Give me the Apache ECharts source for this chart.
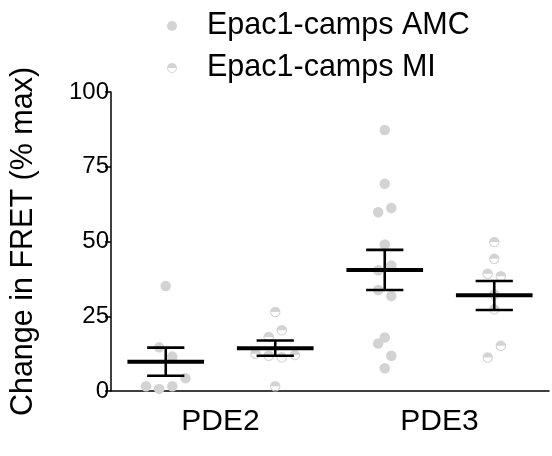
<!DOCTYPE html>
<html>
<head>
<meta charset="utf-8">
<script src="https://cdn.jsdelivr.net/npm/echarts@6/dist/echarts.min.js"></script>
<style>
html,body{margin:0;padding:0;background:#fff;}
#chart{width:552px;height:456px;}
</style>
</head>
<body>
<div id="chart"></div>
<script>
// ---- data ----
const categories = ['PDE2', 'PDE3'];
const yTicks = [0, 25, 50, 75, 100];
const seriesNames = ['Epac1-camps AMC', 'Epac1-camps MI'];

// individual points (values) and horizontal jitter (in category-band units)
const amcPDE2 = [35.1, 14.6, 11.5, 4.3, 1.6, 0.7, 1.6];
const amcPDE2Jitter = [0, -0.06, 0.06, 0.18, -0.18, -0.06, 0.06];
const amcPDE3 = [87.3, 69.3, 61.2, 59.8, 49.0, 42.0, 40.4, 33.8, 31.8, 17.9, 15.9, 11.8, 7.6];
const amcPDE3Jitter = [0, 0, 0.06, -0.06, 0, 0.06, -0.06, -0.06, 0.06, 0, -0.06, 0.06, 0];
const miPDE2 = [26.4, 20.3, 18.1, 12.5, 11.8, 11.3, 12.0, 1.6];
const miPDE2Jitter = [0, 0.06, -0.06, -0.18, -0.06, 0.06, 0.18, 0];
const miPDE3 = [49.8, 44.2, 39.2, 38.4, 32.3, 27.3, 15.1, 11.2];
const miPDE3Jitter = [0, 0, -0.06, 0.06, 0, 0, 0.06, -0.06];

// mean and SEM bounds per category
const amcMean = [9.8, 40.5];
const amcLow = [5.1, 33.8];
const amcHigh = [14.5, 47.2];
const miMean = [14.3, 32.0];
const miLow = [11.8, 27.1];
const miHigh = [16.9, 36.8];

// ---- build ----
// 4 bands on x axis: [AMC PDE2, MI PDE2, AMC PDE3, MI PDE3]
function bandCenter(catIdx, seriesIdx) { return catIdx * 2 + seriesIdx + 0.5; }
function pts(vals, jit, catIdx, seriesIdx) {
  return vals.map((v, i) => [bandCenter(catIdx, seriesIdx) + jit[i], v]);
}
const amcPoints = pts(amcPDE2, amcPDE2Jitter, 0, 0).concat(pts(amcPDE3, amcPDE3Jitter, 1, 0));
const miPoints = pts(miPDE2, miPDE2Jitter, 0, 1).concat(pts(miPDE3, miPDE3Jitter, 1, 1));
const barData = [];
categories.forEach((c, i) => {
  barData.push([bandCenter(i, 0), amcMean[i], amcLow[i], amcHigh[i]]);
  barData.push([bandCenter(i, 1), miMean[i], miLow[i], miHigh[i]]);
});

const halfDisc = 'path://M0 10 A10 10 0 1 1 20 10 A10 10 0 1 1 0 10 Z M2 10 A8 8 0 1 0 18 10 A8 8 0 1 0 2 10 Z M0 10 A10 10 0 0 1 20 10 Z';
const font = '"Liberation Sans", Arial, sans-serif';
const grey = '#d3d3d3';

const chart = echarts.init(document.getElementById('chart'));
chart.setOption({
  animation: false,
  backgroundColor: '#fff',
  textStyle: { fontFamily: font },
  legend: {
    orient: 'vertical',
    left: 162,
    top: 5,
    itemWidth: 60,
    itemHeight: 10,
    itemGap: 10,
    textStyle: { fontFamily: font, fontSize: 30.5, color: '#000', lineHeight: 32 },
    data: [
      { name: seriesNames[0], icon: 'circle' },
      { name: seriesNames[1], icon: halfDisc }
    ]
  },
  grid: { left: 111, right: 0, top: 92, bottom: 65, containLabel: false },
  xAxis: {
    type: 'value',
    min: 0, max: 4, interval: 1,
    axisLine: { show: true, lineStyle: { color: '#000', width: 1.5 } },
    axisTick: { show: false },
    splitLine: { show: false },
    axisLabel: {
      margin: 16,
      fontSize: 30, color: '#000', fontFamily: font,
      formatter: function (v) {
        const idx = (v - 1) / 2;
        return Number.isInteger(idx) && categories[idx] ? categories[idx] : '';
      }
    }
  },
  yAxis: {
    type: 'value',
    min: yTicks[0], max: yTicks[yTicks.length - 1], interval: 25,
    name: 'Change in FRET (% max)',
    nameLocation: 'middle',
    nameGap: 72,
    nameTextStyle: { fontSize: 30.5, color: '#000', fontFamily: font },
    axisLine: { show: true, lineStyle: { color: '#000', width: 1.5 } },
    axisTick: { show: true, length: 6, lineStyle: { color: '#000', width: 1.5 } },
    splitLine: { show: false },
    axisLabel: { margin: 2, fontSize: 24, color: '#000', fontFamily: font }
  },
  series: [
    {
      name: seriesNames[0], type: 'scatter', data: amcPoints,
      symbol: 'circle', symbolSize: 10.5,
      itemStyle: { color: grey, opacity: 1 }, z: 2
    },
    {
      name: seriesNames[1], type: 'scatter', data: miPoints,
      symbol: halfDisc, symbolSize: 10.5,
      itemStyle: { color: grey, opacity: 1 }, z: 2
    },
    {
      name: 'meanSEM', type: 'custom', data: barData, z: 5,
      renderItem: function (params, api) {
        const x = api.value(0), m = api.value(1), lo = api.value(2), hi = api.value(3);
        const mL = api.coord([x - 0.35, m]), mR = api.coord([x + 0.35, m]);
        const top = api.coord([x, hi]), bot = api.coord([x, lo]);
        const cT1 = api.coord([x - 0.17, hi]), cT2 = api.coord([x + 0.17, hi]);
        const cB1 = api.coord([x - 0.17, lo]), cB2 = api.coord([x + 0.17, lo]);
        const st = { stroke: '#000', lineWidth: 2.6 };
        return {
          type: 'group',
          children: [
            { type: 'line', shape: { x1: top[0], y1: top[1], x2: bot[0], y2: bot[1] }, style: st },
            { type: 'line', shape: { x1: cT1[0], y1: cT1[1], x2: cT2[0], y2: cT2[1] }, style: st },
            { type: 'line', shape: { x1: cB1[0], y1: cB1[1], x2: cB2[0], y2: cB2[1] }, style: st },
            { type: 'line', shape: { x1: mL[0], y1: mL[1], x2: mR[0], y2: mR[1] }, style: { stroke: '#000', lineWidth: 4 } }
          ]
        };
      }
    }
  ]
});
</script>
</body>
</html>
